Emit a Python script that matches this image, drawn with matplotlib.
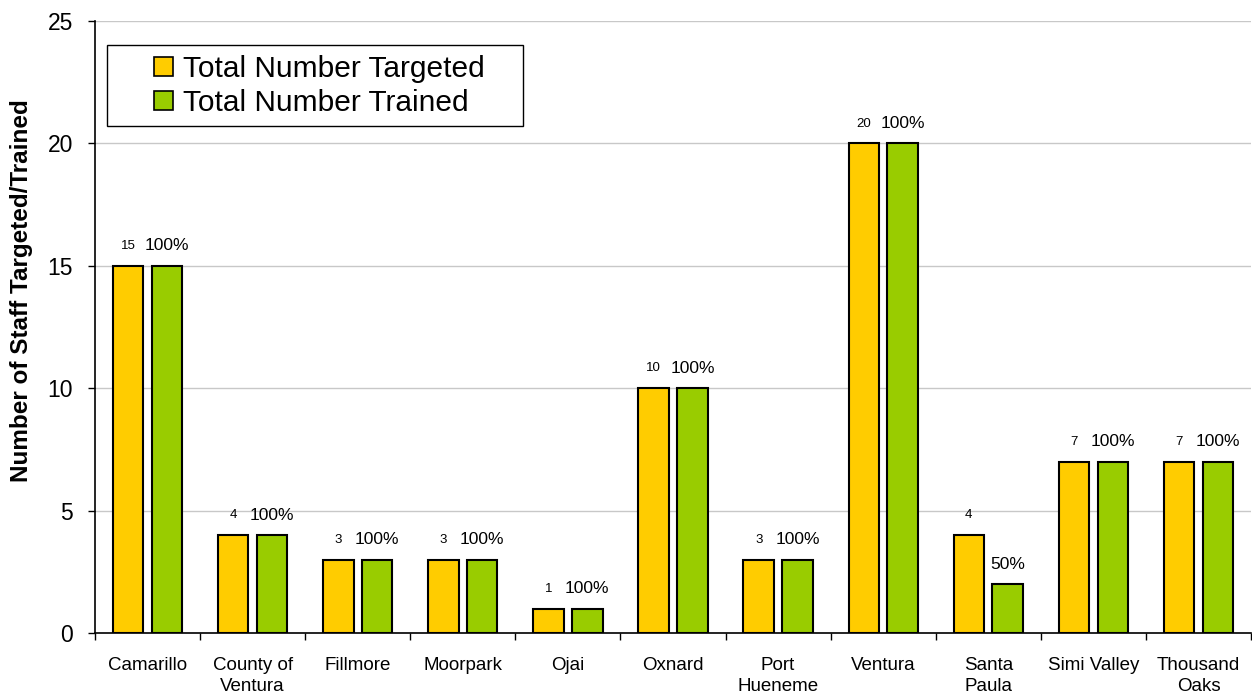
import matplotlib
matplotlib.use("Agg")
import matplotlib.pyplot as plt
from matplotlib.patches import Rectangle
import numpy as np

categories = ["Camarillo", "County of\nVentura", "Fillmore", "Moorpark", "Ojai", "Oxnard",
              "Port\nHueneme", "Ventura", "Santa\nPaula", "Simi Valley", "Thousand\nOaks"]
targeted = [15, 4, 3, 3, 1, 10, 3, 20, 4, 7, 7]
trained = [15, 4, 3, 3, 1, 10, 3, 20, 2, 7, 7]
pct_labels = ["100%", "100%", "100%", "100%", "100%", "100%", "100%", "100%", "50%", "100%", "100%"]
series_names = ["Total Number Targeted", "Total Number Trained"]
colors = ["#FFCC00", "#99CC00"]

plt.rcParams['font.family'] = ['Liberation Sans', 'DejaVu Sans']
W, H = 1252, 696
fig = plt.figure(figsize=(W / 100, H / 100), dpi=100)
ax = fig.add_axes([95 / W, 1 - 633 / H, 1 - 95 / W - 1 / W, (633 - 21) / H])

x = np.arange(len(categories))
w = 0.29
off = 0.185
ax.bar(x - off, targeted, w, color=colors[0], edgecolor="black", linewidth=1.5, zorder=3)
ax.bar(x + off, trained, w, color=colors[1], edgecolor="black", linewidth=1.5, zorder=3)

for i in range(len(categories)):
    ax.annotate(str(targeted[i]), (x[i] - off, targeted[i]), xytext=(0, 10),
                textcoords="offset points", ha="center", va="bottom", fontsize=9.5)
    ax.annotate(pct_labels[i], (x[i] + off, trained[i]), xytext=(0, 9),
                textcoords="offset points", ha="center", va="bottom", fontsize=12.5,
                fontstretch="condensed")

ax.set_xlim(-0.5, len(categories) - 0.5)
ax.set_ylim(0, 25)
ax.set_yticks([0, 5, 10, 15, 20, 25])
ax.tick_params(axis="y", labelsize=16.5, direction="out", length=5, width=1, pad=11)
ax.yaxis.grid(True, color="#C8C8C8", linewidth=1, zorder=0)
ax.set_axisbelow(True)

ax.set_xticks(x)
ax.set_xticklabels(categories, fontsize=13.5, linespacing=1.35)
ax.tick_params(axis="x", length=0, pad=17)
ax.set_xticks(np.arange(-0.5, len(categories), 1), minor=True)
ax.tick_params(axis="x", which="minor", length=5, direction="out", width=1)

ax.spines["top"].set_visible(False)
ax.spines["right"].set_visible(False)
ax.spines["left"].set_linewidth(1.2)
ax.spines["bottom"].set_linewidth(1.2)

ax.set_ylabel("Number of Staff Targeted/Trained", fontsize=17.5, fontweight="bold")
ax.yaxis.set_label_coords((33 - 95) / 1157, (633 - 291) / 612)

# legend drawn in figure pixel coordinates
def fx(px):
    return px / W

def fy(py):
    return 1 - py / H

fig.patches.append(Rectangle((fx(107), fy(126)), fx(523) - fx(107), fy(45) - fy(126),
                             transform=fig.transFigure, facecolor="white", edgecolor="black",
                             linewidth=1, zorder=5))
for k, (name, c) in enumerate(zip(series_names, colors)):
    cy = 66 + 34 * k
    fig.patches.append(Rectangle((fx(154), fy(cy + 9.5)), fx(19), 19 / H,
                                 transform=fig.transFigure, facecolor=c, edgecolor="black",
                                 linewidth=1.2, zorder=6))
    fig.text(fx(183), fy(cy), name, fontsize=21.5, ha="left", va="center_baseline", zorder=6)

fig.savefig("out.png", dpi=100)
